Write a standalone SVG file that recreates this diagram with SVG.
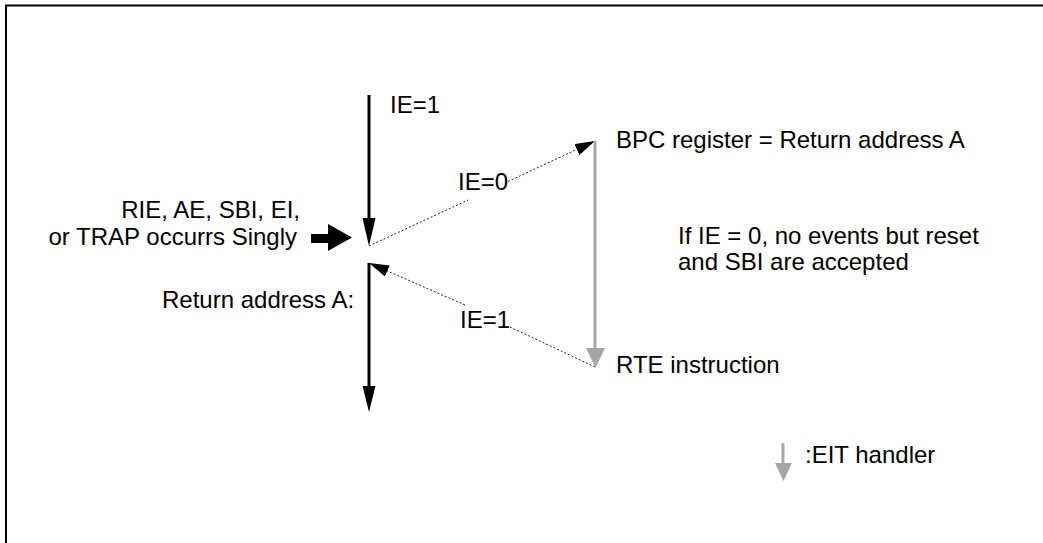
<svg xmlns="http://www.w3.org/2000/svg" width="1043" height="543" viewBox="0 0 1043 543">
<style>
text{font-family:"Liberation Sans",Arial,sans-serif;font-size:24px;fill:#000}
.blk{stroke:#000;stroke-width:3;fill:none}
.gry{stroke:#a6a6a6;stroke-width:3;fill:none}
.dot{stroke:#222;stroke-width:1;stroke-dasharray:2,2;fill:none}
</style>
<defs>
<marker id="ad" markerUnits="userSpaceOnUse" markerWidth="20" markerHeight="12" refX="20" refY="6" orient="auto" viewBox="0 0 20 12"><path d="M0,0 L20,6 L0,12 z" fill="#000"/></marker>
</defs>
<rect x="6" y="5.5" width="1060" height="560" fill="none" stroke="#000" stroke-width="2"/>
<g id="connectors">
<line class="blk" x1="369" y1="95" x2="369" y2="220"/>
<path d="M362.5,218 L375.5,218 L369,246 z" fill="#000"/>
<line class="blk" x1="369" y1="263" x2="369" y2="390"/>
<path d="M362.5,386 L375.5,386 L369,412 z" fill="#000"/>
<line class="dot" x1="369" y1="246" x2="468" y2="200"/>
<line class="dot" x1="508" y1="181.5" x2="595" y2="141" marker-end="url(#ad)"/>
<line class="dot" x1="595" y1="367" x2="510" y2="327"/>
<line class="dot" x1="465" y1="305" x2="369" y2="263" marker-end="url(#ad)"/>
<line class="gry" x1="595" y1="141" x2="595" y2="350"/>
<path d="M586,348 L605,348 L595.5,368 z" fill="#a6a6a6"/>
<path d="M311,234 L328,234 L328,224 L352,237.5 L328,251 L328,243 L311,243 z" fill="#000"/>
<line class="gry" x1="783" y1="443" x2="783" y2="465"/>
<path d="M775,463 L792,463 L783.5,481 z" fill="#a6a6a6"/>
</g>
<g id="labels">
<text x="390" y="113">IE=1</text>
<text x="458" y="190">IE=0</text>
<text x="460" y="328">IE=1</text>
</g>
<g id="n-input"><text x="300" y="218" text-anchor="end">RIE, AE, SBI, EI,</text><text x="297" y="245" text-anchor="end">or TRAP occurrs Singly</text></g>
<g id="n-ret"><text x="162" y="308">Return address A:</text></g>
<g id="n-bpc"><text x="616" y="148">BPC register = Return address A</text></g>
<g id="n-note"><text x="678" y="244">If IE = 0, no events but reset</text><text x="678" y="270">and SBI are accepted</text></g>
<g id="n-rte"><text x="616" y="373">RTE instruction</text></g>
<g id="n-legend"><text x="805" y="463">:EIT handler</text></g>
</svg>
